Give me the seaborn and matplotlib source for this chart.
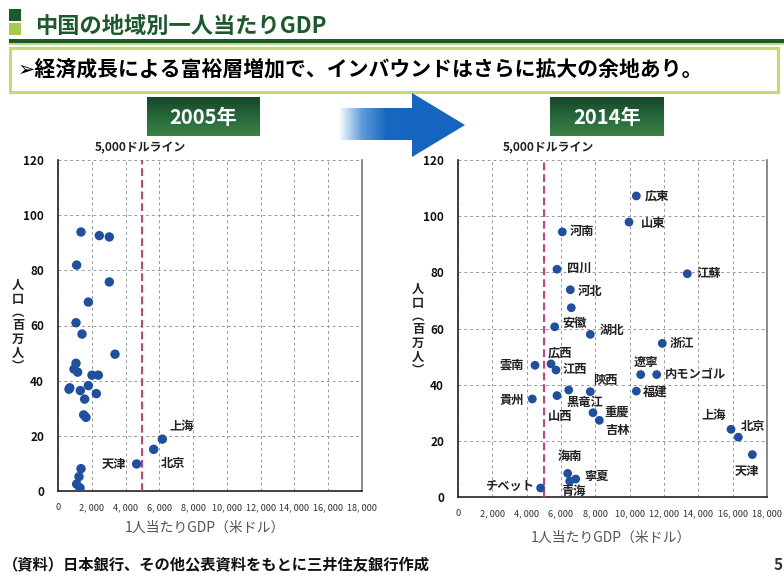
import numpy as np
import pandas as pd
import matplotlib
matplotlib.use("Agg")
import matplotlib.pyplot as plt
import seaborn as sns
from matplotlib.patches import Rectangle, Polygon
from matplotlib.colors import LinearSegmentedColormap

# ---------------- data ----------------
gdp_2005 = [1362, 2447, 3039, 1105, 3039, 1796, 1066, 1421, 3375, 1066, 947, 1164,
            2013, 2388, 651, 700, 1322, 1796, 2270, 1579, 1520, 1658, 6178, 5665,
            4658, 1362, 1243, 1105, 1303]
pop_2005 = [93.9, 92.6, 92.1, 81.9, 75.8, 68.5, 61.0, 56.9, 49.6, 46.3, 44.2, 43.1,
            42.0, 42.0, 36.9, 37.4, 36.4, 38.2, 35.3, 33.3, 27.6, 26.7, 18.8, 15.1,
            9.8, 8.1, 5.2, 2.5, 1.1]
names_2005 = ["", "", "", "", "", "", "", "", "", "", "", "",
              "", "", "", "", "", "", "", "", "", "", "上海", "北京",
              "天津", "", "", "", ""]

names_2014 = ["広東", "山東", "河南", "四川", "江蘇", "河北", "", "安徽", "湖北", "浙江",
              "雲南", "広西", "江西", "遼寧", "内モンゴル", "陝西", "黒竜江", "山西", "福建",
              "貴州", "重慶", "吉林", "上海", "北京", "天津", "海南", "寧夏", "青海", "チベット"]
gdp_2014 = [10388, 9961, 6076, 5767, 13358, 6542, 6600, 5633, 7707, 11901,
            4485, 5417, 5709, 10641, 11573, 7707, 6449, 5767, 10388,
            4328, 7864, 8231, 15903, 16330, 17146, 6390, 6856, 6507, 4817]
pop_2014 = [107.2, 97.9, 94.4, 81.1, 79.5, 73.8, 67.4, 60.6, 57.9, 54.7,
            46.9, 47.4, 45.2, 43.6, 43.6, 37.5, 38.1, 36.1, 37.7,
            34.9, 30.0, 27.3, 24.1, 21.3, 15.1, 8.4, 6.4, 5.6, 3.2]

x_ticks = [0, 2000, 4000, 6000, 8000, 10000, 12000, 14000, 16000, 18000]
x_tick_labels = ["0", "2, 000", "4, 000", "6, 000", "8, 000", "10, 000", "12, 000",
                 "14, 000", "16, 000", "18, 000"]
y_ticks = [0, 20, 40, 60, 80, 100, 120]
line_value = 5000

title = "中国の地域別一人当たりGDP"
subtitle = "➢経済成長による富裕層増加で、インバウンドはさらに拡大の余地あり。"
year_labels = ["2005年", "2014年"]
line_label = "5,000ドルライン"
x_label = "1人当たりGDP（米ドル）"
y_label = "人\n口\n︵\n百\n万\n人\n︶"
source = "（資料）日本銀行、その他公表資料をもとに三井住友銀行作成"
page_number = "5"

# label placement (offset pixels: dx, dy-up, horizontal alignment)
offsets_2005 = {"上海": (19, 13, "center"), "北京": (19, -14, "center"),
                "天津": (-10, -1, "right")}
offsets_2014 = {
    "広東": (8, 0, "left"), "山東": (12, -1, "left"), "河南": (7, 0, "left"),
    "四川": (10, 1, "left"), "江蘇": (9, 0, "left"), "河北": (7, -2, "left"),
    "安徽": (8, 3, "left"), "湖北": (9, 4, "left"), "浙江": (7, 0, "left"),
    "広西": (-3, 11, "left"), "江西": (7, 1, "left"), "雲南": (-11, 0, "right"),
    "貴州": (-8, -1, "right"), "遼寧": (5, 12, "center"), "内モンゴル": (8, 0, "left"),
    "陝西": (15, 11, "center"), "福建": (7, -1, "left"), "黒竜江": (-2, -12, "left"),
    "山西": (-9, -21, "left"), "重慶": (11, 1, "left"), "吉林": (6, -10, "left"),
    "上海": (-17, 14, "center"), "北京": (2, 11, "left"), "天津": (-5, -17, "center"),
    "海南": (2, 17, "center"), "寧夏": (9, 3, "left"), "青海": (4, -10, "center"),
    "チベット": (-7, 2, "right"),
}

# ---------------- style ----------------
sns.set_style("white")
plt.rcParams['font.family'] = ['Noto Sans CJK JP', 'DejaVu Sans']

W, H = 784, 577
fig = plt.figure(figsize=(W / 100, H / 100), dpi=100)
fig.patch.set_facecolor("white")


def frac(x0, y0, x1, y1):
    return [x0 / W, 1 - y1 / H, (x1 - x0) / W, (y1 - y0) / H]


# background overlay in pixel coordinates
bg = fig.add_axes([0, 0, 1, 1])
bg.set_xlim(0, W)
bg.set_ylim(H, 0)
bg.axis("off")

dark_green = "#1c5a2d"
lime = "#a9c94a"
bg.add_patch(Rectangle((9, 9), 12, 12, color=dark_green, lw=0))
bg.add_patch(Rectangle((9, 23), 12, 12, color=lime, lw=0))
bg.text(35, 26, title, fontsize=16, fontweight="bold", color=dark_green, va="center", ha="left")
bg.add_patch(Rectangle((9, 39), 775, 4, color=dark_green, lw=0))
bg.add_patch(Rectangle((9, 43), 775, 2, color="#c3d97a", lw=0))
bg.add_patch(Rectangle((10, 48), 768, 44, facecolor="white", edgecolor="#c6da72", lw=2.2))
bg.text(18, 70, subtitle, fontsize=15, fontweight="bold", color="black", va="center", ha="left")

# year boxes with gradient
green_cmap = LinearSegmentedColormap.from_list("g", ["#17462a", "#25683a", "#3a8244"])
grad = np.linspace(0, 1, 64).reshape(-1, 1)
for (x0, x1), lab in zip([(147, 260), (550, 664)], year_labels):
    bg.imshow(grad, extent=[x0, x1, 136, 97], cmap=green_cmap, aspect="auto", zorder=1)
    bg.text((x0 + x1) / 2, 117, lab, fontsize=14.5, fontweight="bold", color="white",
            ha="center", va="center", zorder=2)

# arrow with gradient
arrow_pts = [(338, 108), (412, 108), (412, 93), (465, 125), (412, 157), (412, 140), (338, 140)]
arrow = Polygon(arrow_pts, closed=True, facecolor="none", edgecolor="none")
bg.add_patch(arrow)
blue_cmap = LinearSegmentedColormap.from_list("b", ["#ffffff", "#5b9bd8", "#1a67c0", "#1565c0"])
hgrad = np.concatenate([np.linspace(0, 1, 80), np.ones(60)]).reshape(1, -1)
im = bg.imshow(hgrad, extent=[338, 465, 157, 93], cmap=blue_cmap, aspect="auto", zorder=1)
im.set_clip_path(arrow)

bg.set_xlim(0, W)
bg.set_ylim(H, 0)

# ---------------- charts ----------------
point_color = "#1f4fa0"
panels = [
    (frac(58, 160, 362, 491), gdp_2005, pop_2005, names_2005, offsets_2005, 46),
    (frac(458, 160, 767, 497), gdp_2014, pop_2014, names_2014, offsets_2014, 40),
]
axes = []
for rect, xs, ys, names, offs, size in panels:
    ax = fig.add_axes(rect)
    df = pd.DataFrame({"gdp": xs, "pop": ys, "name": names})
    sns.scatterplot(data=df, x="gdp", y="pop", ax=ax, color=point_color, s=size,
                    edgecolor="none", zorder=4)
    ax.set_xlim(x_ticks[0], x_ticks[-1])
    ax.set_ylim(y_ticks[0], y_ticks[-1])
    ax.set_xticks(x_ticks)
    ax.set_xticklabels(x_tick_labels, fontsize=6.6, color="#333333")
    ax.set_yticks(y_ticks)
    ax.set_yticklabels([str(v) for v in y_ticks], fontsize=8.5, fontweight="bold", color="#111111")
    ax.tick_params(axis="both", length=0)
    ax.tick_params(axis="y", pad=10)
    ax.tick_params(axis="x", pad=9)
    ax.grid(True, color="#9a9a9a", linestyle=(0, (3, 3)), linewidth=0.7)
    ax.set_axisbelow(True)
    ax.axvline(line_value, color="#e3336a", linestyle=(0, (4, 2)), linewidth=1.4, zorder=3)
    ax.set_xlabel("")
    ax.set_ylabel("")
    for side in ["left", "bottom"]:
        ax.spines[side].set_color("#222222")
        ax.spines[side].set_linewidth(1.2)
    ax.spines["right"].set_color("#777777")
    ax.spines["right"].set_linewidth(1.2)
    ax.spines["top"].set_visible(False)
    for x, y, n in zip(xs, ys, names):
        if n and n in offs:
            dx, dy, ha = offs[n]
            ax.annotate(n, (x, y), xytext=(dx, dy), textcoords="offset pixels",
                        ha=ha, va="center", fontsize=8.8, fontweight="bold",
                        color="#222222", zorder=5)
    axes.append(ax)

# texts around charts
bg.text(140, 148, line_label, fontsize=8.6, fontweight="bold", color="#222222", ha="center", va="center")
bg.text(548, 148, line_label, fontsize=8.6, fontweight="bold", color="#222222", ha="center", va="center")
bg.text(205, 528, x_label, fontsize=10, color="#555555", ha="center", va="center")
bg.text(611, 538, x_label, fontsize=10, color="#555555", ha="center", va="center")
bg.text(18, 326, y_label, fontsize=8.8, fontweight="bold", color="#222222", ha="center",
        va="center", linespacing=1.05)
bg.text(418, 330, y_label, fontsize=8.8, fontweight="bold", color="#222222", ha="center",
        va="center", linespacing=1.05)
bg.text(3, 565, source, fontsize=11, fontweight="bold", color="#111111", ha="left", va="center")
bg.text(774, 565, page_number, fontsize=11, fontweight="bold", color="#333333", ha="left", va="center")

fig.savefig("out.png", dpi=100, facecolor="white")
